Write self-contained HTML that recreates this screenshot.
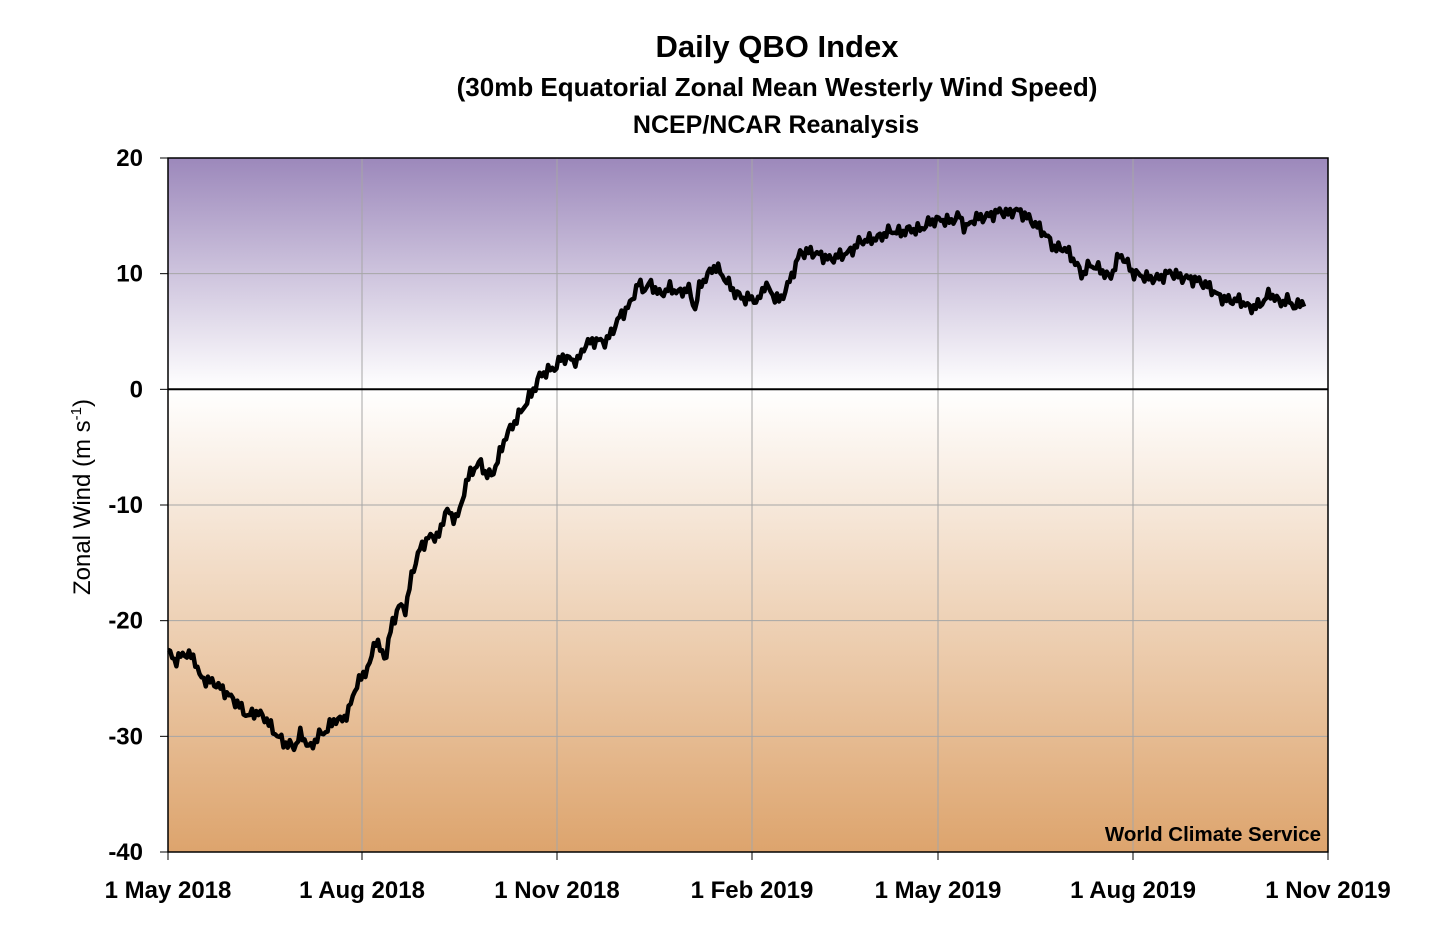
<!DOCTYPE html>
<html><head><meta charset="utf-8">
<style>
html,body{margin:0;padding:0;background:#fff;}
svg text{font-family:"Liberation Sans",Arial,sans-serif;fill:#000;}
</style></head>
<body>
<svg id="s" width="1440" height="940" viewBox="0 0 1440 940" xmlns="http://www.w3.org/2000/svg">
<defs>
<linearGradient id="g" x1="0" y1="0" x2="0" y2="1">
<stop offset="0" stop-color="#9c88bb"/>
<stop offset="0.333" stop-color="#ffffff"/>
<stop offset="1" stop-color="#dda46d"/>
</linearGradient>
</defs>
<text x="777" y="57" font-size="31" font-weight="bold" text-anchor="middle">Daily QBO Index</text>
<text x="777" y="96" font-size="26" font-weight="bold" text-anchor="middle">(30mb Equatorial Zonal Mean Westerly Wind Speed)</text>
<text x="776" y="133" font-size="25" font-weight="bold" text-anchor="middle">NCEP/NCAR Reanalysis</text>
<rect x="168" y="158" width="1160" height="694" fill="url(#g)"/>
<g id="grid" stroke="#a6a6a6" stroke-width="1"></g>
<line x1="168" y1="389.3" x2="1328" y2="389.3" stroke="#000" stroke-width="2"/>
<rect x="168" y="158" width="1160" height="694" fill="none" stroke="#000" stroke-width="1.5"/>
<g id="lab" font-size="24" font-weight="bold"></g>
<text transform="translate(90,497) rotate(-90)" font-size="24" text-anchor="middle">Zonal Wind (m s<tspan dy="-9" font-size="15">-1</tspan><tspan dy="9">)</tspan></text>
<text x="1321" y="841" font-size="20.5" font-weight="bold" text-anchor="end">World Climate Service</text>
<path id="ln" fill="none" stroke="#000" stroke-width="4.5" stroke-linejoin="round"/>
</svg>
<script>
var ns="http://www.w3.org/2000/svg";
function Y(v){return 158+(20-v)*694/60;}
var xs=[168,362,557,752,938,1133,1328],xl=["1 May 2018","1 Aug 2018","1 Nov 2018","1 Feb 2019","1 May 2019","1 Aug 2019","1 Nov 2019"];
var grid=document.getElementById("grid"),lab=document.getElementById("lab");
function el(t,a,p,txt){var e=document.createElementNS(ns,t);for(var k in a)e.setAttribute(k,a[k]);if(txt)e.textContent=txt;p.appendChild(e);return e;}
xs.forEach(function(x,i){if(i>0&&i<6)el("line",{x1:x,y1:158,x2:x,y2:852},grid);
el("line",{x1:x,y1:852,x2:x,y2:860,stroke:"#000"},lab);
el("text",{x:x,y:898,"text-anchor":"middle"},lab,xl[i]);});
for(var v=-40;v<=20;v+=10){var y=Y(v);if(v!=20&&v!=-40)el("line",{x1:168,y1:y,x2:1328,y2:y},grid);
el("line",{x1:160,y1:y,x2:168,y2:y,stroke:"#000"},lab);
el("text",{x:143,y:y+8,"text-anchor":"end"},lab,String(v));}
var P=[168,-22.5,175,-23.5,185,-23,195,-23.5,200,-25,215,-25.2,225,-26,235,-27,248,-28.5,255,-28,265,-28.3,275,-29.5,285,-30.5,295,-31,300,-30,305,-30.5,310,-31.3,318,-30,325,-29.5,335,-28.3,340,-28.5,348,-28,355,-26,362,-25,370,-24,375,-21.5,380,-22.5,386,-23,392,-20,400,-18.5,406,-19,412,-16,420,-14,428,-13,440,-12.5,446,-10,452,-11,460,-10.5,466,-8,474,-7,480,-6.5,486,-7.5,492,-7.5,498,-6,505,-4,512,-3,520,-2,528,-1,535,0,540,1,548,1.5,556,2,562,3,570,2.8,578,2.5,585,3.8,595,4,606,4,612,5,620,6.5,630,7.5,638,9.2,645,8.5,650,9,660,8,670,8.8,680,8.5,688,9,695,7,700,9,706,9.5,715,10.5,725,9.5,735,8.5,745,8,752,8,758,7.5,765,9,772,8,780,7.5,790,9.5,800,12,810,12,820,11.5,830,11,840,11.5,850,12,860,13,870,13,880,13,890,13.5,900,13.5,910,14,920,14,930,14.5,940,14.5,950,14.3,960,15,965,14,975,15,990,15,1000,15.2,1010,15,1015,15.5,1025,15.2,1035,14.5,1045,13.5,1055,12,1065,12,1075,11,1082,10,1090,11,1100,10.5,1110,9.5,1115,10.5,1120,11.5,1125,11,1133,10,1140,10,1150,9.8,1160,9.7,1170,10,1180,9.5,1190,9.5,1200,9.5,1210,9,1220,8,1230,7.5,1240,7.5,1250,7,1260,7.5,1270,8.5,1280,7.5,1290,7.5,1295,6.8,1300,7.3,1305,7.5];
var d="";
for(var x=168;x<=1305;x+=2.1){
 var i=0;while(i<P.length-4&&P[i+2]<x)i+=2;
 var t=(x-P[i])/(P[i+2]-P[i]);if(t<0)t=0;if(t>1)t=1;
 var v=P[i+1]+(P[i+3]-P[i+1])*t;
 v+=0.35*Math.sin(x*1.7)+0.25*Math.sin(x*0.63+1)+0.2*Math.sin(x*3.1);
 d+=(d?"L":"M")+x.toFixed(1)+","+Y(v).toFixed(1);
}
document.getElementById("ln").setAttribute("d",d);
</script>
</body></html>
